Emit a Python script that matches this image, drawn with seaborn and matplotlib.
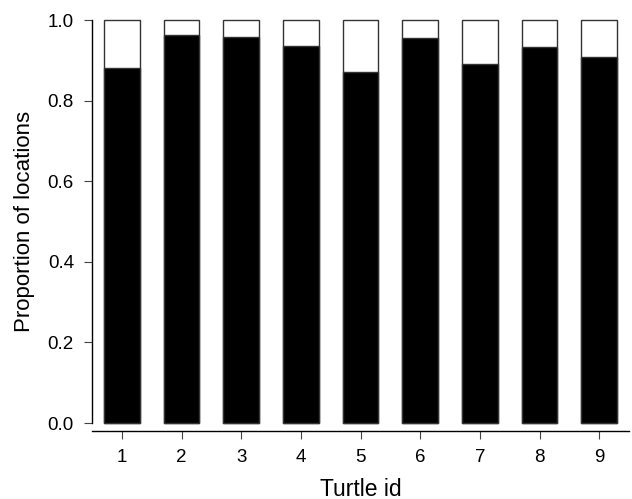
import matplotlib
matplotlib.use("Agg")
import matplotlib.pyplot as plt
import pandas as pd
import seaborn as sns

# proportion of locations per turtle (black part of each bar)
turtle_ids = ["1", "2", "3", "4", "5", "6", "7", "8", "9"]
proportion = [0.882, 0.964, 0.959, 0.935, 0.870, 0.955, 0.892, 0.932, 0.908]
total = [1.0] * len(turtle_ids)

sns.set_theme(style="ticks")
plt.rcParams["font.family"] = ["Liberation Sans", "DejaVu Sans"]

df = pd.DataFrame({"turtle": turtle_ids, "prop": proportion, "total": total})

fig = plt.figure(figsize=(6.32, 4.99), dpi=100)
ax = fig.add_axes([0.1456, 0.1523, 0.8497, 0.8076])

# white full-height bar, then black proportion on top
sns.barplot(data=df, x="turtle", y="total", color="white", edgecolor="#333333",
            linewidth=1.0, width=0.6, saturation=1, ax=ax, clip_on=False)
sns.barplot(data=df, x="turtle", y="prop", color="black", edgecolor="#333333",
            linewidth=1.0, width=0.6, saturation=1, ax=ax, clip_on=False)

ax.set_xlim(-0.5, 8.5)
ax.set_ylim(0, 1.0)
ax.set_yticks([0.0, 0.2, 0.4, 0.6, 0.8, 1.0])
ax.set_yticklabels(["0.0", "0.2", "0.4", "0.6", "0.8", "1.0"])

sns.despine(ax=ax)
ax.spines["bottom"].set_position(("outward", 6))
ax.spines["left"].set_color("black")
ax.spines["bottom"].set_color("black")
ax.spines["left"].set_linewidth(1.0)
ax.spines["bottom"].set_linewidth(1.0)

ax.tick_params(axis="both", length=6, width=0.8, color="#444444",
               labelsize=13.5, labelcolor="black")
ax.tick_params(axis="x", pad=7)
ax.tick_params(axis="y", pad=7)

ax.set_xlabel("Turtle id", fontsize=16.5, color="black", labelpad=8)
ax.set_ylabel("Proportion of locations", fontsize=16, color="black", labelpad=9)

fig.savefig("out.png", dpi=100)
